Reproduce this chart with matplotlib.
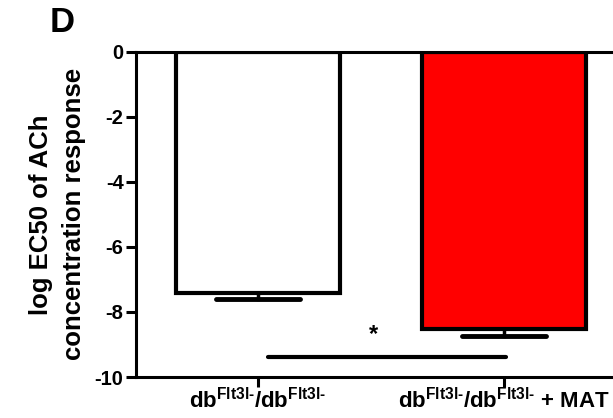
import matplotlib
matplotlib.use('Agg')
import matplotlib.pyplot as plt

plt.rcParams['font.family'] = ['Liberation Sans', 'DejaVu Sans']
plt.rcParams['font.weight'] = 'bold'
plt.rcParams['axes.unicode_minus'] = False
plt.rcParams['mathtext.fontset'] = 'custom'
plt.rcParams['mathtext.rm'] = 'Liberation Sans:bold'
plt.rcParams['mathtext.bf'] = 'Liberation Sans:bold'
plt.rcParams['mathtext.it'] = 'Liberation Sans:bold'

groups = [r'db$^{\mathrm{Flt3l}\text{-}}$/db$^{\mathrm{Flt3l}\text{-}}$',
          r'db$^{\mathrm{Flt3l}\text{-}}$/db$^{\mathrm{Flt3l}\text{-}}$ + MAT']
means = [-7.42, -8.52]
sem = [0.18, 0.22]
colors = ['white', '#ff0000']
yticks = [0, -2, -4, -6, -8, -10]
sig_y = -9.38

fig = plt.figure(figsize=(6.13, 4.18), dpi=100)
ax = fig.add_axes([0.222, 0.098, 0.778, 0.778])

x = [0, 1]
ax.bar(x, means, width=0.67, color=colors, edgecolor='black', linewidth=3, zorder=2)
for xi, m, e in zip(x, means, sem):
    ax.plot([xi, xi], [m, m - e], color='black', lw=2.5, zorder=1)
    ax.plot([xi - 0.17, xi + 0.17], [m - e, m - e], color='black', lw=3.5,
            solid_capstyle='round', zorder=1)

# significance
ax.plot([0.04, 1.01], [sig_y, sig_y], color='black', lw=3, solid_capstyle='round')
ax.text(0.47, -8.7, '*', ha='center', va='center', fontsize=17, fontweight='bold')

ax.set_xlim(-0.496, 1.443)
ax.set_ylim(-10, 0)
ax.set_xticks(x)
ax.set_xticklabels(groups, fontsize=16, fontweight='bold')
ax.set_yticks(yticks)
ax.set_yticklabels([str(t) for t in yticks], fontsize=14.5, fontweight='bold')
ax.tick_params(axis='both', width=2.2, length=7, pad=2)
ax.tick_params(axis='x', pad=1)
for s in ['left', 'bottom', 'top']:
    ax.spines[s].set_linewidth(2.2)
ax.spines['right'].set_visible(False)

ax.set_ylabel('log EC50 of ACh\nconcentration response', fontsize=18.5,
              fontweight='bold', labelpad=6, linespacing=1.5)

fig.text(0.101, 0.945, 'D', fontsize=25, fontweight='bold', ha='center', va='center')

fig.savefig('out.png', dpi=100)
